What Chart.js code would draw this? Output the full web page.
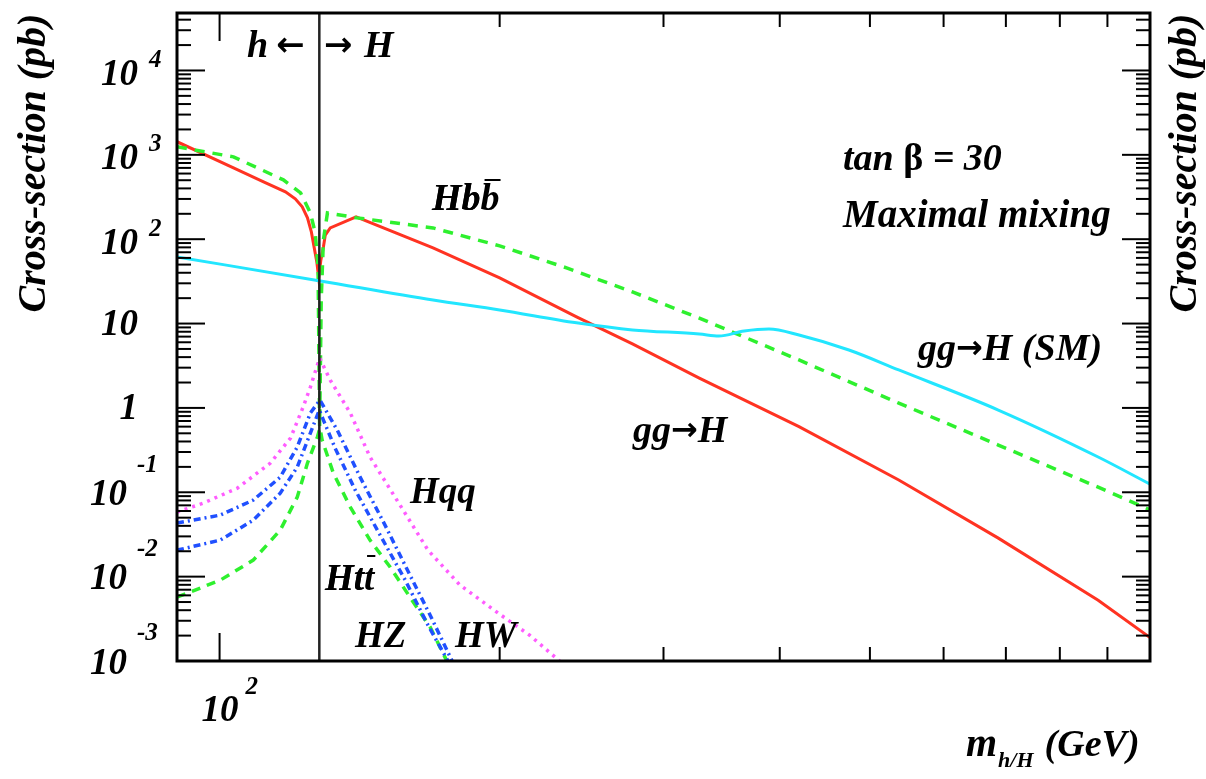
<!DOCTYPE html>
<html>
<head>
<meta charset="utf-8">
<title>Cross-section vs Higgs mass</title>
<script src="https://cdn.jsdelivr.net/npm/chart.js@4.4.1/dist/chart.umd.min.js"></script>
<style>
  html, body { margin: 0; padding: 0; background: #fff; }
  #wrap { width: 1206px; height: 779px; position: relative; }
</style>
</head>
<body>
<div id="wrap"><canvas id="xsecChart"></canvas></div>
<script>
// masses in GeV, cross-sections in pb
var ggMass = [90, 103.5, 111.5, 117.7, 120.6, 122.7, 124.3, 125.5, 126.4, 127.2, 127.8, 128.5, 129.3, 129.9, 131.5, 140.2, 169.6, 200, 241.9, 277.8, 327.8, 419.5, 537, 687, 879.6, 1000];
var ggXsec = [1430, 701, 479, 364, 301, 242, 179, 122, 78.9, 53.8, 34.8, 56.8, 81, 112, 136, 184, 78.9, 34.8, 12.0, 5.73, 2.26, 0.60, 0.140, 0.0286, 0.00526, 0.0019];

var bbMass = [90, 103.5, 117.1, 122.2, 125.2, 126.7, 127.6, 128.1, 128.6, 129.3, 130.6, 140.5, 169.6, 200, 236, 277.8, 327.8, 419.5, 537, 687, 879.6, 1000];
var bbXsec = [1245, 946, 505, 354, 205, 119, 46.9, 0.6, 19, 98, 205, 179, 136, 83.3, 45.7, 23.7, 11.6, 3.70, 1.14, 0.363, 0.115, 0.062];

var smMass = [90, 128.3, 169.6, 200, 241.9, 277.8, 327.8, 344, 366.3, 389.5, 419.5, 474.7, 537, 687, 879.6, 1000];
var smXsec = [61.7, 32.0, 19.0, 14.5, 10.2, 8.40, 7.53, 7.11, 8.17, 8.63, 7.32, 4.86, 2.82, 0.944, 0.262, 0.125];

var qqMass = [90, 96.1, 104.5, 113.4, 119.2, 123.0, 125.2, 128.1, 131.5, 138.2, 145.1, 157.5, 167.5, 181.3, 200, 215.4, 232];
var qqXsec = [0.0582, 0.0745, 0.112, 0.222, 0.44, 1.03, 1.77, 3.9, 2.14, 0.87, 0.262, 0.0615, 0.0206, 0.00793, 0.00359, 0.00202, 0.001];

var hwMass = [90, 100.2, 108.7, 116.2, 121.2, 125.2, 128.2, 133.8, 141.6, 150.6, 160.2, 168.4, 177.8];
var hwXsec = [0.0431, 0.0537, 0.0808, 0.151, 0.344, 0.87, 1.24, 0.547, 0.151, 0.0408, 0.0104, 0.00349, 0.001];

var hzMass = [90, 100.2, 108.7, 116.2, 121.2, 125.2, 128, 129.3, 133.1, 139.9, 148.8, 158.3, 167.5, 176];
var hzXsec = [0.0206, 0.0271, 0.0468, 0.0977, 0.199, 0.504, 0.944, 0.718, 0.334, 0.106, 0.031, 0.0091, 0.00266, 0.001];

var ttMass = [90, 100.2, 108.7, 116.2, 121.2, 124.3, 127.4, 128.2, 128.9, 132.5, 138.2, 145.1, 152.5, 160.2, 168.4, 175.5];
var ttXsec = [0.00571, 0.0091, 0.0157, 0.0356, 0.0877, 0.222, 0.452, 0.578, 0.416, 0.169, 0.0667, 0.0271, 0.013, 0.00571, 0.00252, 0.001];

var hMaxMass = 128; // h <-> H boundary

var yTickValues = [1e4, 1e3, 1e2, 10, 1, 0.1, 0.01, 0.001];
var yTickBase = ['10', '10', '10', '10', '1', '10', '10', '10'];
var yTickExp = ['4', '3', '2', '', '', '-1', '-2', '-3'];
var xTickValues = [100];
var xTickBase = ['10'];
var xTickExp = ['2'];
var xMinorTicks = [200, 300, 400, 500, 600, 700, 800, 900];

var SERIF = '"Liberation Serif", "DejaVu Serif", serif';
var ARROW = '"DejaVu Sans", sans-serif';

function font(size) {
  return 'bold italic ' + size + 'px ' + SERIF;
}

function toPoints(xs, ys) {
  var pts = [];
  for (var i = 0; i < xs.length; i++) {
    pts.push({ x: xs[i], y: ys[i] });
  }
  return pts;
}

function line(ctx, x1, y1, x2, y2) {
  ctx.beginPath();
  ctx.moveTo(x1, y1);
  ctx.lineTo(x2, y2);
  ctx.stroke();
}

function text(ctx, str, x, y, size) {
  ctx.font = font(size);
  ctx.fillText(str, x, y);
  return ctx.measureText(str).width;
}

function arrow(ctx, str, x, y, size) {
  ctx.font = 'bold ' + size + 'px ' + ARROW;
  ctx.fillText(str, x, y);
  return ctx.measureText(str).width;
}

// "gg->H" style label: serif text, sans arrow, serif text
function ggLabel(ctx, x, y, size, tail) {
  var w = text(ctx, 'gg', x, y, size);
  w += arrow(ctx, '\u2192', x + w, y, size - 6);
  text(ctx, tail, x + w, y, size);
}

var rootFrame = {
  id: 'rootFrame',
  afterDatasetsDraw: function(chart) {
    var ctx = chart.ctx;
    var a = chart.chartArea;
    var xs = chart.scales.x;
    var ys = chart.scales.y;
    ctx.save();
    ctx.strokeStyle = '#000';
    ctx.fillStyle = '#000';
    ctx.lineCap = 'butt';

    // h / H boundary
    var xb = xs.getPixelForValue(hMaxMass);
    ctx.lineWidth = 2.5;
    ctx.strokeStyle = '#222';
    line(ctx, xb, a.top, xb, a.bottom);
    ctx.strokeStyle = '#000';

    // y ticks, both sides
    ctx.lineWidth = 2;
    for (var d = -3; d <= 4; d++) {
      for (var k = 1; k <= 9; k++) {
        var v = k * Math.pow(10, d);
        if (v > ys.max) break;
        var py = ys.getPixelForValue(v);
        var len = (k === 1) ? 28 : 14;
        line(ctx, a.left, py, a.left + len, py);
        line(ctx, a.right, py, a.right - len, py);
      }
    }
    // x ticks, top and bottom
    for (var i = 0; i < xTickValues.length; i++) {
      var px = xs.getPixelForValue(xTickValues[i]);
      line(ctx, px, a.bottom, px, a.bottom - 28);
      line(ctx, px, a.top, px, a.top + 28);
    }
    for (var j = 0; j < xMinorTicks.length; j++) {
      var mx = xs.getPixelForValue(xMinorTicks[j]);
      line(ctx, mx, a.bottom, mx, a.bottom - 14);
      line(ctx, mx, a.top, mx, a.top + 14);
    }

    // frame
    ctx.lineWidth = 3;
    ctx.strokeRect(a.left, a.top, a.right - a.left, a.bottom - a.top);

    // y tick labels
    ctx.textBaseline = 'middle';
    for (var t = 0; t < yTickValues.length; t++) {
      var ty = ys.getPixelForValue(yTickValues[t]);
      var exp = yTickExp[t];
      if (exp === '') {
        ctx.textAlign = 'right';
        text(ctx, yTickBase[t], 138, ty + 2, 37);
      } else if (exp.charAt(0) === '-') {
        ctx.textAlign = 'right';
        text(ctx, yTickBase[t], 127, ty + 3, 37);
        ctx.textAlign = 'left';
        text(ctx, exp, 137, ty - 27, 25);
      } else {
        ctx.textAlign = 'right';
        text(ctx, yTickBase[t], 138, ty + 5, 37);
        ctx.textAlign = 'left';
        text(ctx, exp, 149, ty - 10, 25);
      }
    }
    // x tick labels
    for (var u = 0; u < xTickValues.length; u++) {
      var tx = xs.getPixelForValue(xTickValues[u]);
      ctx.textAlign = 'right';
      text(ctx, xTickBase[u], tx + 19, a.bottom + 50, 37);
      ctx.textAlign = 'left';
      text(ctx, xTickExp[u], tx + 26, a.bottom + 27, 25);
    }

    // axis titles
    ctx.textAlign = 'center';
    ctx.save();
    ctx.translate(35, 163);
    ctx.rotate(-Math.PI / 2);
    text(ctx, 'Cross-section (pb)', 0, 0, 40);
    ctx.restore();
    ctx.save();
    ctx.translate(1186, 163);
    ctx.rotate(-Math.PI / 2);
    text(ctx, 'Cross-section (pb)', 0, 0, 40);
    ctx.restore();

    ctx.textAlign = 'left';
    var mw = text(ctx, 'm', 966, 746, 40);
    var sw = text(ctx, 'h/H', 966 + mw + 1, 761, 22);
    text(ctx, '(GeV)', 966 + mw + sw + 12, 746, 38);

    // annotations
    text(ctx, 'h', 247, 47, 38);
    arrow(ctx, '\u2190', 276, 47, 34);
    arrow(ctx, '\u2192', 324, 47, 34);
    text(ctx, 'H', 364, 47, 38);

    var tw = text(ctx, 'tan ', 843, 160, 38);
    ctx.font = 'bold 38px ' + SERIF;
    ctx.fillText('\u03b2', 843 + tw, 160);
    var bw = ctx.measureText('\u03b2').width;
    text(ctx, ' = 30', 843 + tw + bw, 160, 38);
    text(ctx, 'Maximal mixing', 843, 217, 39);

    var hb = text(ctx, 'Hb', 432, 200, 38);
    var hbb = text(ctx, 'Hbb', 432, 200, 38);
    ctx.lineWidth = 2;
    line(ctx, 432 + hb + 4, 180, 432 + hbb + 1, 180);

    ggLabel(ctx, 918, 350, 38, 'H (SM)');
    ggLabel(ctx, 633, 432, 38, 'H');
    text(ctx, 'Hqq', 410, 493, 37);
    var ht = text(ctx, 'Ht', 325, 580, 37);
    var htt = text(ctx, 'Htt', 325, 580, 37);
    line(ctx, 325 + ht + 3, 556, 325 + htt + 1, 556);
    text(ctx, 'HZ', 355, 637, 37);
    text(ctx, 'HW', 455, 637, 37);

    ctx.restore();
  }
};

window.onload = function() {
  var ctx = document.getElementById('xsecChart').getContext('2d');
  new Chart(ctx, {
    type: 'scatter',
    data: {
      datasets: [
        { label: 'gg\u2192H (SM)', data: toPoints(smMass, smXsec), borderColor: '#22e6ff', borderWidth: 3, cubicInterpolationMode: 'monotone' },
        { label: 'Hqq', data: toPoints(qqMass, qqXsec), borderColor: '#ff5cff', borderWidth: 3.5, borderDash: [3, 5] },
        { label: 'HW', data: toPoints(hwMass, hwXsec), borderColor: '#2050ff', borderWidth: 3.5, borderDash: [7, 4, 2, 4] },
        { label: 'HZ', data: toPoints(hzMass, hzXsec), borderColor: '#2050ff', borderWidth: 3.5, borderDash: [7, 4, 2, 4] },
        { label: 'Htt', data: toPoints(ttMass, ttXsec), borderColor: '#2ef02e', borderWidth: 3.5, borderDash: [9, 7] },
        { label: 'Hbb', data: toPoints(bbMass, bbXsec), borderColor: '#2ef02e', borderWidth: 3.5, borderDash: [10, 8] },
        { label: 'gg\u2192H', data: toPoints(ggMass, ggXsec), borderColor: '#ff3322', borderWidth: 3 }
      ]
    },
    options: {
      responsive: true,
      maintainAspectRatio: false,
      animation: false,
      showLine: true,
      layout: { padding: { left: 177, top: 13, right: 56, bottom: 118 } },
      elements: {
        point: { radius: 0, hoverRadius: 0 },
        line: { fill: false, tension: 0 }
      },
      scales: {
        x: { type: 'logarithmic', min: 90, max: 1000, display: false },
        y: { type: 'logarithmic', min: 0.001, max: 48000, display: false }
      },
      plugins: {
        legend: { display: false },
        tooltip: { enabled: false }
      }
    },
    plugins: [rootFrame]
  });
};
</script>
</body>
</html>
